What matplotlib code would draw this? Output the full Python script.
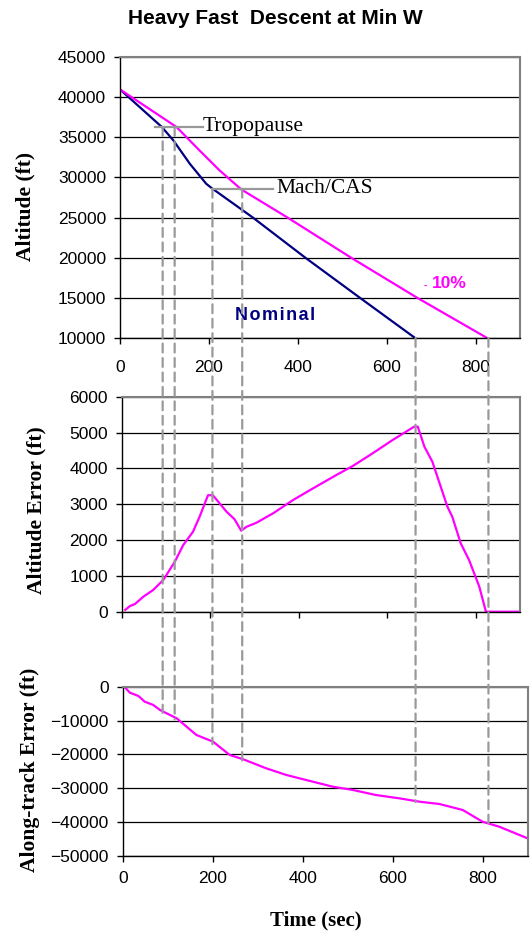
import matplotlib
matplotlib.use("Agg")
import matplotlib.pyplot as plt
from matplotlib.patches import ConnectionPatch
from matplotlib import transforms
import numpy as np

# altitude profiles (sec, ft)
nom_t = [0, 94, 120, 157, 194, 208, 299, 417, 540, 664]
nom_alt = [40960, 36290, 34620, 31710, 29210, 28600, 25000, 20000, 15000, 10000]
m10_t = [0, 127, 180, 224, 273, 377, 520, 669, 826]
m10_alt = [40960, 36290, 33300, 30875, 28500, 25000, 20000, 15000, 10000]

# altitude error (ft)
err_t = [8, 19, 30, 49, 71, 94, 109, 120, 139, 161, 176, 195, 206, 237, 255, 270, 282, 304, 342, 387,
         432, 485, 522, 567, 612, 661, 669, 684, 702, 736, 747, 766, 785, 808, 823, 898]
err_v = [50, 160, 215, 420, 605, 885, 1180, 1395, 1860, 2230, 2650, 3250, 3250, 2790, 2580, 2260, 2370,
         2480, 2745, 3115, 3440, 3815, 4065, 4420, 4790, 5165, 5165, 4605, 4185, 2930, 2650, 1910, 1440,
         700, 0, 0]

# along-track error (ft)
at_t = [5, 16, 35, 49, 68, 83, 120, 164, 201, 238, 268, 319, 364, 408, 467, 512, 563, 615, 660, 704,
        756, 800, 837, 900]
at_v = [-200, -1770, -2750, -4430, -5400, -6880, -9340, -14270, -16240, -20170, -21440, -24100, -26080,
        -27560, -29530, -30510, -31990, -32970, -33960, -34640, -36410, -39870, -41340, -44770]

# event markers: (time, altitude) where the dashed guides start
ev_t = [96, 123, 208, 275, 665, 829]
ev_alt = [36290, 36290, 28590, 28590, 10000, 10000]

NAVY = "#000080"
MAG = "#FF00FF"
GREY = "#808080"
DASH = "#999999"

plt.rcParams["font.family"] = ["Liberation Sans", "DejaVu Sans"]

W, H = 530, 941
fig = plt.figure(figsize=(W / 100, H / 100), dpi=100)


def box(l, t, r, b):
    return [l / W, 1 - b / H, (r - l) / W, (b - t) / H]


ax1 = fig.add_axes(box(120, 57, 520, 338))
ax2 = fig.add_axes(box(121.7, 396.7, 520, 611.7))
ax3 = fig.add_axes(box(122.7, 686.7, 527.5, 856))

for ax in (ax1, ax2, ax3):
    ax.set_xlim(0, 900)
    ax.set_xticks([0, 200, 400, 600, 800])
    ax.yaxis.grid(True, color="black", lw=0.9)
    ax.set_axisbelow(True)
    for s in ("top", "right"):
        ax.spines[s].set_color(GREY)
        ax.spines[s].set_linewidth(1.5)
    for s in ("left", "bottom"):
        ax.spines[s].set_color("black")
        ax.spines[s].set_linewidth(1.0)
    ax.tick_params(direction="out", length=4, width=1, labelsize=12.5, pad=6)

# top panel
ax1.plot(nom_t, nom_alt, color=NAVY, lw=1.6)
ax1.plot(m10_t, m10_alt, color=MAG, lw=1.6)
ax1.set_ylim(10000, 45000)
ax1.set_yticks(range(10000, 45001, 5000))
ax1.tick_params(axis="x", pad=12)
ax1.text(350, 12750, "N\u200ao\u200am\u200ai\u200an\u200aa\u200al", color=NAVY, fontweight="bold",
         fontsize=13, ha="center", va="center")
ax1.text(686, 16500, "-", color=MAG, fontweight="bold", fontsize=7, ha="center", va="center")
ax1.text(702, 16750, "10%", color=MAG, fontweight="bold", fontsize=12.5, ha="left", va="center")

# callouts
ax1.plot([78, 186], [36290, 36290], color=DASH, lw=1.6)
ax1.text(187, 36290, "Tropopause", family="Liberation Serif", fontsize=15.5, va="center")
ax1.plot([206, 345], [28590, 28590], color=DASH, lw=1.6)
ax1.text(352, 28590, "Mach/CAS", family="Liberation Serif", fontsize=15.5, va="center")

# middle panel
ax2.plot(err_t, err_v, color=MAG, lw=1.6)
ax2.set_ylim(0, 6000)
ax2.set_yticks(range(0, 6001, 1000))
ax2.set_xticklabels([])

# bottom panel
ax3.plot(at_t, at_v, color=MAG, lw=1.6)
ax3.set_ylim(-50000, 0)
ax3.set_yticks(range(-50000, 1, 10000))
ax3.tick_params(axis="x", pad=7)

# dashed guide lines from top panel down to the along-track curve
trans_b = transforms.blended_transform_factory(ax1.transData, ax3.transData)
for t, a in zip(ev_t, ev_alt):
    yb = np.interp(t, at_t, at_v)
    cp = ConnectionPatch((t, a), (t, yb), coordsA=ax1.transData, coordsB=trans_b,
                         color=DASH, lw=1.6, linestyle=(0, (4, 2.5)))
    fig.add_artist(cp)

lab = dict(family="Liberation Serif", fontweight="bold", fontsize=15.5, rotation=90,
           ha="center", va="center")
fig.text(25 / W, 1 - 206 / H, "Altitude (ft)", **lab)
fig.text(36 / W, 1 - 510 / H, "Altitude Error (ft)", **lab)
fig.text(30 / W, 1 - 770 / H, "Along-track Error (ft)", **lab)
fig.text(316 / W, 1 - 920 / H, "Time (sec)", family="Liberation Serif", fontweight="bold",
         fontsize=15, ha="center", va="center")

fig.text(275 / W, 1 - 18 / H, "Heavy Fast  Descent at Min W", ha="center", va="center",
         fontsize=15, fontweight="bold")

fig.savefig("out.png", dpi=100)
